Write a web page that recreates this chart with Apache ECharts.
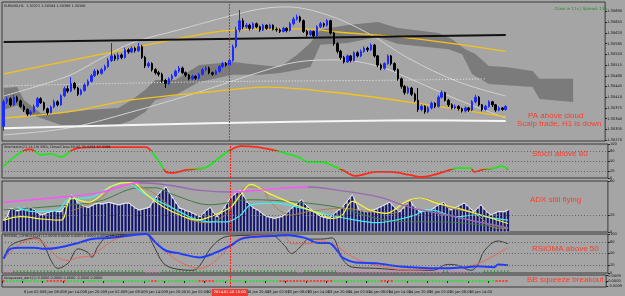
<!DOCTYPE html>
<html>
<head>
<meta charset="utf-8">
<title>EURUSD H1</title>
<script src="https://cdn.jsdelivr.net/npm/echarts@6.0.0/dist/echarts.min.js"></script>
<style>
  html, body { margin: 0; padding: 0; background: #a5a5a5; }
  #chart { width: 625px; height: 296px; }
</style>
</head>
<body>
<div id="chart"></div>
<script>
// bar slots: 150 hourly candles + room for the shifted cloud
const slotCount = 179;
const slots = Array.from({ length: slotCount }, (_, i) => String(i));

// time labels, one every 6 bars
const timeLabels = [
  '7 Jan 20:00', '8 Jan 02:00', '8 Jan 08:00', '8 Jan 14:00', '8 Jan 20:00',
  '9 Jan 02:00', '9 Jan 08:00', '9 Jan 14:00', '9 Jan 20:00', '10 Jan 02:00',
  '10 Jan 08:00', '10 Jan 14:00', '10 Jan 20:00', '13 Jan 02:00', '13 Jan 08:00',
  '13 Jan 14:00', '13 Jan 20:00', '14 Jan 02:00', '14 Jan 08:00', '14 Jan 14:00',
  '14 Jan 20:00', '15 Jan 02:00', '15 Jan 08:00', '15 Jan 14:00', '15 Jan 20:00'
];
const markedBar = 67;
const markedTime = '2014.01.10 15:00';

const priceTicks = [1.30270, 1.30305, 1.30340, 1.30375, 1.30410, 1.30445, 1.30480,
  1.30515, 1.30550, 1.30585, 1.30620, 1.30655, 1.30690];

// [open, close, low, high]
const candles = [
  [1.30315,1.30395,1.30300,1.30402],[1.30395,1.30405,1.30388,1.30412],[1.30405,1.30385,1.30380,1.30410],[1.30385,1.30410,1.30382,1.30418],[1.30410,1.30398,1.30392,1.30415],
  [1.30398,1.30380,1.30375,1.30402],[1.30380,1.30370,1.30362,1.30386],[1.30370,1.30355,1.30348,1.30374],[1.30355,1.30362,1.30350,1.30368],[1.30362,1.30380,1.30358,1.30386],
  [1.30380,1.30405,1.30376,1.30411],[1.30405,1.30392,1.30388,1.30410],[1.30392,1.30372,1.30366,1.30396],[1.30372,1.30360,1.30352,1.30376],[1.30360,1.30378,1.30357,1.30383],
  [1.30378,1.30395,1.30374,1.30402],[1.30395,1.30385,1.30380,1.30400],[1.30385,1.30415,1.30382,1.30420],[1.30415,1.30438,1.30410,1.30445],[1.30438,1.30430,1.30424,1.30448],
  [1.30430,1.30455,1.30426,1.30476],[1.30455,1.30440,1.30434,1.30460],[1.30440,1.30420,1.30414,1.30444],[1.30420,1.30432,1.30416,1.30438],[1.30432,1.30450,1.30428,1.30456],
  [1.30450,1.30462,1.30445,1.30468],[1.30462,1.30480,1.30458,1.30486],[1.30480,1.30495,1.30476,1.30502],[1.30495,1.30488,1.30482,1.30500],[1.30488,1.30500,1.30484,1.30506],
  [1.30500,1.30510,1.30495,1.30516],[1.30510,1.30530,1.30506,1.30538],[1.30530,1.30545,1.30525,1.30587],[1.30545,1.30535,1.30528,1.30550],[1.30535,1.30548,1.30530,1.30555],
  [1.30548,1.30540,1.30534,1.30553],[1.30540,1.30565,1.30536,1.30572],[1.30565,1.30558,1.30552,1.30570],[1.30558,1.30570,1.30554,1.30576],[1.30570,1.30562,1.30556,1.30575],
  [1.30562,1.30575,1.30558,1.30587],[1.30575,1.30540,1.30535,1.30580],[1.30540,1.30512,1.30505,1.30545],[1.30512,1.30520,1.30506,1.30526],[1.30520,1.30500,1.30494,1.30524],
  [1.30500,1.30490,1.30484,1.30505],[1.30490,1.30485,1.30478,1.30496],[1.30485,1.30465,1.30458,1.30490],[1.30465,1.30455,1.30440,1.30470],[1.30455,1.30470,1.30450,1.30475],
  [1.30470,1.30480,1.30465,1.30486],[1.30480,1.30495,1.30476,1.30500],[1.30495,1.30505,1.30490,1.30512],[1.30505,1.30490,1.30485,1.30510],[1.30490,1.30482,1.30476,1.30494],
  [1.30482,1.30470,1.30465,1.30486],[1.30470,1.30478,1.30466,1.30484],[1.30478,1.30472,1.30467,1.30482],[1.30472,1.30485,1.30468,1.30490],[1.30485,1.30500,1.30481,1.30506],
  [1.30500,1.30505,1.30495,1.30512],[1.30505,1.30490,1.30485,1.30510],[1.30490,1.30485,1.30480,1.30494],[1.30485,1.30495,1.30482,1.30500],[1.30495,1.30510,1.30490,1.30515],
  [1.30510,1.30520,1.30505,1.30526],[1.30520,1.30515,1.30510,1.30525],[1.30515,1.30530,1.30512,1.30536],[1.30530,1.30575,1.30526,1.30582],[1.30575,1.30630,1.30570,1.30640],
  [1.30630,1.30660,1.30622,1.30695],[1.30660,1.30640,1.30632,1.30668],[1.30640,1.30645,1.30634,1.30652],[1.30645,1.30635,1.30628,1.30650],[1.30635,1.30650,1.30630,1.30655],
  [1.30650,1.30640,1.30635,1.30654],[1.30640,1.30630,1.30624,1.30644],[1.30630,1.30645,1.30626,1.30650],[1.30645,1.30635,1.30630,1.30648],[1.30635,1.30645,1.30632,1.30650],
  [1.30645,1.30632,1.30628,1.30648],[1.30632,1.30630,1.30624,1.30638],[1.30630,1.30625,1.30620,1.30635],[1.30625,1.30635,1.30622,1.30640],[1.30635,1.30628,1.30622,1.30638],
  [1.30628,1.30650,1.30625,1.30656],[1.30650,1.30665,1.30645,1.30672],[1.30665,1.30672,1.30660,1.30680],[1.30672,1.30660,1.30654,1.30676],[1.30660,1.30625,1.30620,1.30664],
  [1.30625,1.30615,1.30608,1.30630],[1.30615,1.30625,1.30610,1.30630],[1.30625,1.30610,1.30604,1.30628],[1.30610,1.30640,1.30607,1.30645],[1.30640,1.30650,1.30636,1.30656],
  [1.30650,1.30645,1.30638,1.30654],[1.30645,1.30660,1.30640,1.30665],[1.30660,1.30620,1.30615,1.30663],[1.30620,1.30585,1.30578,1.30624],[1.30585,1.30560,1.30553,1.30590],
  [1.30560,1.30540,1.30532,1.30565],[1.30540,1.30525,1.30520,1.30545],[1.30525,1.30545,1.30522,1.30550],[1.30545,1.30530,1.30524,1.30548],[1.30530,1.30555,1.30526,1.30560],
  [1.30555,1.30545,1.30540,1.30560],[1.30545,1.30560,1.30541,1.30566],[1.30560,1.30570,1.30555,1.30576],[1.30570,1.30565,1.30558,1.30575],[1.30565,1.30580,1.30561,1.30586],
  [1.30580,1.30545,1.30540,1.30584],[1.30545,1.30515,1.30508,1.30548],[1.30515,1.30505,1.30498,1.30520],[1.30505,1.30520,1.30500,1.30524],[1.30520,1.30545,1.30516,1.30550],
  [1.30545,1.30520,1.30514,1.30548],[1.30520,1.30500,1.30494,1.30524],[1.30500,1.30470,1.30464,1.30504],[1.30470,1.30445,1.30438,1.30474],[1.30445,1.30425,1.30418,1.30450],
  [1.30425,1.30440,1.30420,1.30446],[1.30440,1.30420,1.30414,1.30444],[1.30420,1.30400,1.30394,1.30425],[1.30400,1.30370,1.30362,1.30440],[1.30370,1.30380,1.30364,1.30386],
  [1.30380,1.30362,1.30356,1.30384],[1.30362,1.30375,1.30358,1.30380],[1.30375,1.30390,1.30370,1.30396],[1.30390,1.30380,1.30374,1.30394],[1.30380,1.30410,1.30376,1.30416],
  [1.30410,1.30425,1.30406,1.30432],[1.30425,1.30400,1.30396,1.30428],[1.30400,1.30385,1.30378,1.30404],[1.30385,1.30375,1.30370,1.30390],[1.30375,1.30380,1.30370,1.30386],
  [1.30380,1.30372,1.30366,1.30384],[1.30372,1.30365,1.30360,1.30376],[1.30365,1.30375,1.30360,1.30380],[1.30375,1.30368,1.30362,1.30378],[1.30368,1.30395,1.30364,1.30400],
  [1.30395,1.30410,1.30390,1.30418],[1.30410,1.30385,1.30380,1.30414],[1.30385,1.30370,1.30364,1.30388],[1.30370,1.30380,1.30366,1.30385],[1.30380,1.30395,1.30376,1.30400],
  [1.30395,1.30385,1.30378,1.30398],[1.30385,1.30368,1.30362,1.30388],[1.30368,1.30375,1.30364,1.30380],[1.30375,1.30370,1.30365,1.30378],[1.30370,1.30380,1.30366,1.30384]
];

// ichimoku cloud edges (bar index, price)
const cloudTopIdx = [0,4,6,11,17,25,34,38,42,45,51,58,68,76,82,87,91,94,102,111,117,129,133,137,140,144,149,157,159,169];
const cloudTop = [1.30440,1.30443,1.30401,1.30358,1.30358,1.30368,1.30375,1.30401,1.30434,1.30466,1.30466,1.30515,1.30525,1.30515,1.30509,
  1.30548,1.30587,1.30630,1.30646,1.30656,1.30636,1.30620,1.30600,1.30567,1.30551,1.30512,1.30509,1.30496,1.30470,1.30470];
const cloudBotIdx = [0,4,6,11,17,25,34,38,42,45,51,58,68,76,82,87,91,94,102,111,117,132,136,139,144,157,159,169];
const cloudBot = [1.30368,1.30384,1.30362,1.30342,1.30319,1.30319,1.30319,1.30335,1.30362,1.30401,1.30417,1.30460,1.30483,1.30483,1.30489,
  1.30499,1.30509,1.30581,1.30587,1.30607,1.30584,1.30567,1.30551,1.30486,1.30453,1.30443,1.30404,1.30394];

// overlay lines [bar index, price]
const yellowUpper = [[0,1.30486],[28,1.30548],[61,1.30620],[70,1.30630],[90,1.30633],[99,1.30623],[120,1.30604],[149,1.30560]];
const yellowLower = [[0,1.30342],[19,1.30362],[38,1.30401],[61,1.30427],[78,1.30443],[97,1.30427],[120,1.30395],[149,1.30346]];
const trendBlack = [[0,1.30590],[149,1.30613]];
const whiteBase = [[0,1.30309],[61,1.30325],[120,1.30335],[149,1.30332]];
const dottedLevel = [[0,1.30447],[58,1.30460],[120,1.30466],[143,1.30470]];
const bandUpper = [[0,1.30414],[19,1.30479],[28,1.30531],[38,1.30587],[52,1.30630],[67,1.30675],[76,1.30698],[84,1.30705],[96,1.30679],[108,1.30620],[120,1.30538],[135,1.30460],[149,1.30414]];
const bandLower = [[0,1.30287],[19,1.30309],[38,1.30362],[58,1.30427],[76,1.30492],[87,1.30525],[99,1.30532],[111,1.30512],[120,1.30473],[135,1.30401],[149,1.30342]];

// stochastic
const stochMain = [[0,35],[6,81],[8,84],[9,80],[11,68],[14,71],[17,62],[20,81],[22,88],[28,91],[42,91],[44,74],[46,47],[48,18],[50,15],[53,22],[54,24],[58,28],[60,32],[64,62],[67,82],[70,94],[75,91],[80,81],[82,76],[87,62],[90,47],[94,47],[98,32],[100,24],[104,6],[110,18],[114,18],[120,9],[123,3],[127,9],[130,18],[134,29],[138,29],[139,18],[142,26],[145,29],[147,35],[149,26]];

// ADX panel
const adxHist = [
  14,18,28,27,25,26,28,27,29,27, 23,20,21,23,24,25,24,24,30,35,
  44,40,34,32,30,29,31,33,34,33, 34,35,34,33,32,33,34,34,31,28,
  26,27,28,29,35,41,46,50,53,46, 40,34,28,27,25,24,22,20,18,22,
  26,29,23,18,22,28,34,40,44,47, 49,42,35,31,28,26,23,20,18,17,
  16,17,18,20,24,28,31,35,38,33, 29,26,23,20,18,17,16,19,23,26,
  29,34,39,44,35,26,25,24,24,26, 27,29,31,33,35,31,27,24,28,33,
  38,31,27,24,25,26,26,28,31,33, 35,30,26,28,30,32,34,31,27,24,
  28,32,27,23,20,22,24,24,24,26
];
const adxMain = [[0,35],[14,40],[28,46],[40,58],[49,55],[58,49],[67,47],[75,49],[90,53],[99,49],[111,41],[120,29],[131,20],[140,12],[149,5]];
const adxGreen = [[0,26],[14,30],[28,36],[40,52],[45,52],[50,44],[61,32],[73,38],[87,35],[100,28],[110,16],[120,12],[129,12],[149,4]];
const adxYellow = [[0,14],[5,18],[12,15],[17,14],[20,40],[25,35],[28,41],[31,52],[36,58],[38,58],[42,45],[47,30],[52,20],[57,14],[61,18],[67,29],[70,44],[73,56],[78,46],[85,34],[93,22],[97,16],[100,20],[103,36],[108,26],[113,22],[119,36],[123,40],[128,34],[134,28],[141,20],[149,10]];
const adxCyan = [[4,29],[9,24],[16,26],[19,38],[26,41],[31,52],[36,58],[42,44],[50,28],[56,16],[61,12],[66,12],[70,20],[73,32],[80,34],[88,28],[96,20],[104,14],[110,11],[120,18],[126,26],[134,18],[139,20],[145,16],[149,14]];
const adxBrown = [[20,25],[28,38],[35,58],[43,49],[48,34],[54,16],[60,11],[66,22],[72,53],[76,52],[79,34],[85,20],[90,24],[100,28],[108,24],[115,22],[119,34],[123,40],[128,35],[132,28],[139,22],[145,5],[149,4]];

// RSIOMA panel
const rsiBlue = [[0,37],[2,62],[5,65],[9,65],[12,62],[16,65],[22,77],[26,87],[31,90],[38,97],[42,100],[45,77],[48,57],[52,50],[58,40],[62,50],[67,70],[70,87],[73,92],[79,95],[84,97],[89,90],[93,77],[96,77],[99,52],[100,40],[104,27],[110,25],[114,20],[120,15],[127,12],[131,12],[137,15],[140,17],[145,15],[146,22],[149,20]];
const rsiRed = [[0,37],[5,75],[9,87],[12,75],[16,40],[19,32],[22,40],[26,45],[30,70],[34,90],[42,100],[46,70],[50,40],[54,20],[58,12],[62,27],[67,70],[70,90],[79,97],[83,95],[85,75],[90,75],[94,82],[98,70],[104,37],[110,20],[120,7],[129,12],[136,15],[141,27],[145,45],[149,65]];
const rsiBlack = [[0,37],[2,70],[7,87],[10,90],[12,70],[14,32],[16,12],[19,25],[22,62],[25,52],[26,40],[28,70],[31,95],[42,100],[44,75],[47,27],[50,12],[56,7],[58,20],[61,62],[64,87],[67,95],[79,97],[83,70],[85,50],[88,70],[90,87],[94,87],[97,90],[100,37],[103,15],[110,12],[120,7],[127,7],[131,22],[134,20],[138,7],[140,20],[142,57],[146,82],[149,75]];
// per-bar state of the RSIOMA tick row (g green, p pink, b blue)
const rsiTicks = ['pppggggggg','gggggggggg','gggggggggg','gggggggggg','ggpppppggg','gggggggggg','gggggggggg','gggggggggg',
  'gggggggppg','gggggggggp','pppppppppp','pppppppppp','pppppppppp','ggpppppbbb','bbgggggggg'].join('');

// BB squeeze dots per bar (g no squeeze, r squeeze)
const squeezeDots = ['rggggggggg','gggrrrrrrg','gggggggggg','gggggggggg','ggggrrgggg','ggggggggrr','rrrggggggg','gggggggggg',
  'ggrrrrrrrr','rrrrrrrrgg','gggggggggg','ggrrrrgggg','gggggggggg','gggggggggg','ggggggrrrr'].join('');

const chart = echarts.init(document.getElementById('chart'));

const RED = '#ff2a1a', GREEN = '#1fe61f';
const MARK_RED = '#ff1a1a';
const TINY = 3.6;
const lastClose = candles[candles.length - 1][1];

// value range of each panel: [min, max]
const ranges = [[1.30267, 1.30721], [0, 100], [0, 60], [0, 100], [-0.001, 0.001]];

const level = v => ({ yAxis: v, lineStyle: { color: '#666', type: [1, 2], width: 1 }, label: { show: false } });
const marks = items => ({ silent: true, symbol: 'none', animation: false, data: items });

// right = 17.1 puts the marked bar centre on a half pixel so its 1px line stays crisp
const grids = [
  { top: 2, height: 139 },
  { top: 144, height: 34 },
  { top: 181, height: 51 },
  { top: 234, height: 39 },
  { top: 275, height: 12 }
].map(g => Object.assign(g, { left: 2, right: 17.1, show: true, borderColor: '#3a3a3a', borderWidth: 1 }));

const labelEvery = idx => idx % 6 === 0 && idx <= 144;
const xAxes = grids.map((g, k) => ({
  type: 'category', gridIndex: k, data: slots, boundaryGap: true,
  axisLine: { show: false },
  axisTick: { show: k === 4, interval: labelEvery, length: 2, lineStyle: { color: '#222' } },
  axisLabel: {
    show: k === 4, interval: labelEvery, align: 'left', margin: 3, fontSize: TINY, color: '#111',
    fontFamily: 'DejaVu Sans', formatter: (v, idx) => timeLabels[idx / 6]
  },
  splitLine: { show: false }
}));

function yAxisFor(k, ticks, fmt) {
  return {
    type: 'value', gridIndex: k, position: 'right', min: ranges[k][0], max: ranges[k][1], scale: true,
    axisLine: { show: false }, splitLine: { show: false },
    axisTick: { show: true, length: 2, customValues: ticks, lineStyle: { color: '#222' } },
    axisLabel: { customValues: ticks, fontSize: TINY, color: '#111', margin: 2, fontFamily: 'DejaVu Sans', formatter: fmt }
  };
}
const yAxes = [
  yAxisFor(0, priceTicks, v => v.toFixed(5)),
  yAxisFor(1, [0, 20, 50, 80, 100], v => String(v)),
  yAxisFor(2, [0, 20, 60], v => String(v)),
  yAxisFor(3, [0, 20, 50, 80, 100], v => String(v)),
  yAxisFor(4, [-0.0009, 0, 0.0009], v => v.toFixed(4))
];

const series = [];
const add = s => (series.push(s), series.length - 1);
function line(data, gi, color, width, extra) {
  const s = {
    type: 'line', xAxisIndex: gi, yAxisIndex: gi, data, symbol: 'none', smooth: 0.35, silent: true,
    lineStyle: { width }, z: 3
  };
  if (color) { s.lineStyle.color = color; s.itemStyle = { color }; }
  return Object.assign(s, extra || {});
}
// red dotted vertical line at the marked bar, spanning a whole panel
const markerSeries = gi => line([[markedBar, ranges[gi][0]], [markedBar, ranges[gi][1]]], gi, null, 1, {
  smooth: false, z: 6, lineStyle: { color: MARK_RED, width: 1, type: [2, 1] }, itemStyle: { color: MARK_RED }
});

// main panel
add({
  type: 'custom', xAxisIndex: 0, yAxisIndex: 0, z: 1, silent: true, clip: true,
  data: [[cloudTopIdx[0], cloudTop[0]]],
  renderItem(params, api) {
    const pts = cloudTopIdx.map((x, k) => api.coord([x, cloudTop[k]]));
    for (let k = cloudBotIdx.length - 1; k >= 0; k--) pts.push(api.coord([cloudBotIdx[k], cloudBot[k]]));
    return { type: 'polygon', shape: { points: pts }, style: { fill: '#7b7b7b' } };
  }
});
add(line(bandUpper, 0, '#d2d2d2', 1));
add(line(bandLower, 0, '#d2d2d2', 1));
add(line(whiteBase, 0, '#f6f6f6', 2, { smooth: 0.2 }));
add(line(dottedLevel, 0, null, 1, { lineStyle: { color: '#ececec', width: 1, type: [1, 2] } }));
add(line(yellowUpper, 0, '#f4c21a', 1.3));
add(line(yellowLower, 0, '#f4c21a', 1.3));
add(line(trendBlack, 0, '#111', 2, { smooth: false, z: 4 }));
add({
  type: 'candlestick', xAxisIndex: 0, yAxisIndex: 0, data: candles, barWidth: 2, z: 5, silent: true,
  itemStyle: { color: '#1c2bff', color0: '#000', borderColor: '#1c2bff', borderColor0: '#000', borderWidth: 1 },
  markLine: marks([
    { yAxis: lastClose, lineStyle: { color: '#8a8a8a', type: 'solid', width: 1 },
      label: { show: true, position: 'end', distance: 1, formatter: p => p.value.toFixed(5), backgroundColor: '#000',
        color: '#fff', fontSize: TINY, padding: [1, 1], fontFamily: 'DejaVu Sans' } }
  ])
});
add(markerSeries(0));

// stochastic panel (colour comes from the visualMap)
const stochIdx = add(line(stochMain, 1, null, 1.8, { markLine: marks([level(20), level(50), level(80)]) }));
add(markerSeries(1));

// ADX panel
add({
  type: 'bar', xAxisIndex: 2, yAxisIndex: 2, data: adxHist, barCategoryGap: '0%', silent: true, z: 2,
  itemStyle: { color: '#13136a', borderColor: '#cfd4d4', borderWidth: 0.5 },
  markLine: marks([level(20)])
});
add(line(adxHist, 2, '#eeeeee', 1, { smooth: false }));
add(line(adxGreen, 2, '#3f7d3f', 1));
add(line(adxBrown, 2, '#a8844c', 1));
add(line(adxCyan, 2, '#3ff0f0', 1.2));
add(line(adxYellow, 2, '#f5f53a', 1.2));
const adxIdx = add(line(adxMain, 2, null, 1.4));
add(markerSeries(2));

// RSIOMA panel
const tickColor = { g: '#2f8f2f', p: '#d27ab8', b: '#7aa6e6' };
add({
  type: 'bar', xAxisIndex: 3, yAxisIndex: 3, barWidth: 1, silent: true, z: 2,
  data: rsiTicks.split('').map(c => ({ value: 7, itemStyle: { color: tickColor[c] } }))
});
add(line(rsiBlack, 3, '#3c3c3c', 1));
add(line(rsiRed, 3, '#e8685a', 1));
add(line(rsiBlue, 3, '#1f3cff', 2, { markLine: marks([level(20), level(50), level(80)]) }));
add(markerSeries(3));

// BB squeeze panel (its marker also carries the highlighted time label)
add({
  type: 'scatter', xAxisIndex: 4, yAxisIndex: 4, symbol: 'rect', symbolSize: [2, 2], silent: true, z: 5,
  data: squeezeDots.split('').map((c, i) => ({ value: [i, 0], itemStyle: { color: c === 'r' ? RED : GREEN } })),
  markLine: marks([{
    xAxis: markedBar, lineStyle: { color: MARK_RED, type: [2, 1], width: 1 },
    label: { show: true, position: 'start', distance: 2, formatter: markedTime, backgroundColor: '#ee3a30',
      color: '#fff', fontSize: TINY, padding: [1.5, 2], fontFamily: 'DejaVu Sans' }
  }])
});

const note = (text, x, y) => ({
  type: 'text', x, y, silent: true, z: 10,
  style: { text, fill: '#ff3c28', fontSize: 8, fontFamily: 'Liberation Sans', verticalAlign: 'middle' }
});
const tiny = (text, x, y, fill) => ({
  type: 'text', x, y, silent: true, z: 10,
  style: { text, fill: fill || '#111', fontSize: 3.4, fontFamily: 'DejaVu Sans', verticalAlign: 'middle' }
});

chart.setOption({
  animation: false,
  backgroundColor: '#a5a5a5',
  grid: grids,
  xAxis: xAxes,
  yAxis: yAxes,
  visualMap: [
    { type: 'piecewise', show: false, seriesIndex: stochIdx, dimension: 1,
      pieces: [{ lt: 25, color: RED }, { gte: 25, lte: 80, color: GREEN }, { gt: 80, color: RED }] },
    { type: 'piecewise', show: false, seriesIndex: adxIdx, dimension: 0,
      pieces: [{ lt: 40, color: '#ff50ff' }, { gte: 40, lt: 67, color: '#9a68b0' }, { gte: 67, lt: 90, color: '#ff50ff' }, { gte: 90, color: '#9a68b0' }] }
  ],
  series,
  graphic: [
    tiny('EURUSD,H1  1.30372 1.30384 1.30366 1.30380', 4, 6),
    { type: 'text', right: 18, top: 7, silent: true, z: 10,
      style: { text: 'Close in 11s | Spread: 13p', fill: '#2b8a2b', fontSize: 4, fontFamily: 'DejaVu Sans' } },
    tiny('Stochastic(21,14,14) SMA, Close/Close 80.00 79.4334 87.3366', 4, 147),
    tiny('RSIOMA_v2HHLSX(14) 12.0000 0.0000 0.0000 0.0000 0.0000 15.1134', 4, 236),
    tiny('bbsqueeze_dark(1) 0.0000 0.0000 0.0000 -0.0000 0.0000', 4, 278),
    note('PA above cloud', 528, 115.5),
    note('Scalp trade, H1 is down', 517, 124),
    note('Stoch above 80', 532, 153.5),
    note('ADX still flying', 530, 199.5),
    note('RSIOMA above 50', 532, 248.5),
    note('BB squeeze breakout', 527, 280)
  ]
});
</script>
</body>
</html>
